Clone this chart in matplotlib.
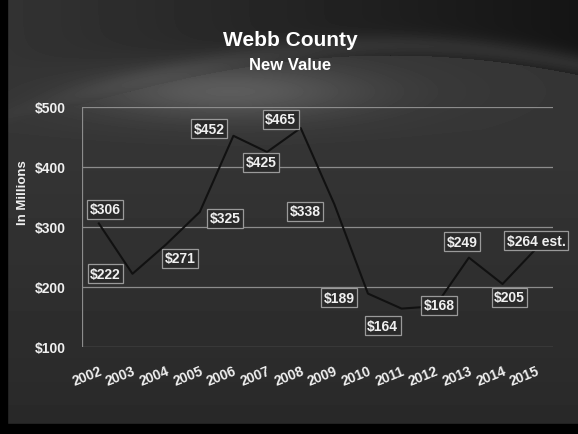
import numpy as np
import matplotlib.pyplot as plt
from matplotlib.patches import Rectangle

plt.rcParams['font.family'] = ['Liberation Sans', 'DejaVu Sans']
plt.rcParams['font.weight'] = 'bold'

# Данные графика
years = [2002, 2003, 2004, 2005, 2006, 2007, 2008, 2009, 2010, 2011, 2012, 2013, 2014, 2015]
values = [306, 222, 271, 325, 452, 425, 465, 338, 189, 164, 168, 249, 205, 264]
labels = ['$306', '$222', '$271', '$325', '$452', '$425', '$465', '$338',
          '$189', '$164', '$168', '$249', '$205', '$264 est.']
y_ticks = [100, 200, 300, 400, 500]

# Смещения подписей (в пикселях)
offsets = [(6, 14), (-27, 0), (14, -14), (25, -6), (-24, 7), (-6, -10), (-20, 9),
           (-29, -7), (-29, -4), (-19, -17), (4, 1), (-7, 16), (7, -13), (0, 8)]

W, H = 578, 435
fig = plt.figure(figsize=(W / 100, H / 100), dpi=100)

# ---------------- фон слайда ----------------
bg = fig.add_axes([0, 0, 1, 1], zorder=0)
X, Y = np.meshgrid(np.arange(W), np.arange(H))
yc = 128 - 72 * np.sin(np.pi * X / 780)
below = 0.21 - 0.05 * (Y - 130).clip(0) / 300
above = 0.2 - 0.12 * (X / W)
field = np.where(Y > yc, below, above)
field += 0.08 * np.exp(-((Y - (yc - 10)) / 12) ** 2) * (Y < yc) * (X / W + 0.3)
field += 0.15 * np.exp(-(((X - 230) / 140) ** 2 + ((Y - 92) / 28) ** 2))
field = field.clip(0, 1)
bg.imshow(field, cmap='gray', vmin=0, vmax=1, extent=[0, W, H, 0], aspect='auto')
bg.add_patch(Rectangle((0, 0), 7, H, color='black'))
bg.add_patch(Rectangle((0, H - 10), W, 10, color='black'))
bg.set_xlim(0, W)
bg.set_ylim(H, 0)
bg.axis('off')

# ---------------- график ----------------
ax = fig.add_axes([82 / W, 1 - 348 / H, 471 / W, 240 / H], zorder=1)
ax.set_facecolor('none')
x = np.arange(len(years))
ax.set_xlim(-0.5, len(years) - 0.5)
ax.set_ylim(100, 500)

for t in y_ticks:
    ax.axhline(t, color='#8c8c8c', linewidth=0.9, zorder=1)
ax.axvline(-0.5, color='#8c8c8c', linewidth=0.9, zorder=1)
for s in ax.spines.values():
    s.set_visible(False)

ax.plot(x, values, color='#111111', linewidth=1.5, zorder=2, clip_on=False)

for xi, v, lab, (dx, dy) in zip(x, values, labels, offsets):
    ax.annotate(lab, (xi, v), xytext=(dx, dy), textcoords='offset pixels',
                ha='center', va='center', color='#f0f0f0', fontsize=10,
                fontweight='bold', zorder=3, annotation_clip=False,
                bbox=dict(boxstyle='square,pad=0.18', facecolor='#2a2a2a',
                          edgecolor='#9a9a9a', linewidth=0.9))

ax.set_yticks(y_ticks)
ax.set_yticklabels(['$' + str(t) for t in y_ticks], color='#f0f0f0',
                   fontsize=10, fontweight='bold')
ax.set_xticks(x)
ax.set_xticklabels([str(y) for y in years], rotation=22, ha='right',
                   rotation_mode='anchor', color='#f0f0f0', fontsize=10,
                   fontweight='bold')
ax.tick_params(axis='y', length=0, pad=12)
ax.tick_params(axis='x', length=0, pad=12)

fig.text(23 / W, 1 - 193 / H, 'In Millions', rotation=90, ha='center',
         va='center', color='#f0f0f0', fontsize=9.5, fontweight='bold')
fig.text(290 / W, 1 - 41 / H, 'Webb County', ha='center', va='center',
         color='white', fontsize=15, fontweight='bold')
fig.text(290 / W, 1 - 65 / H, 'New Value', ha='center', va='center',
         color='white', fontsize=12, fontweight='bold')

fig.savefig('out.png', dpi=100)
